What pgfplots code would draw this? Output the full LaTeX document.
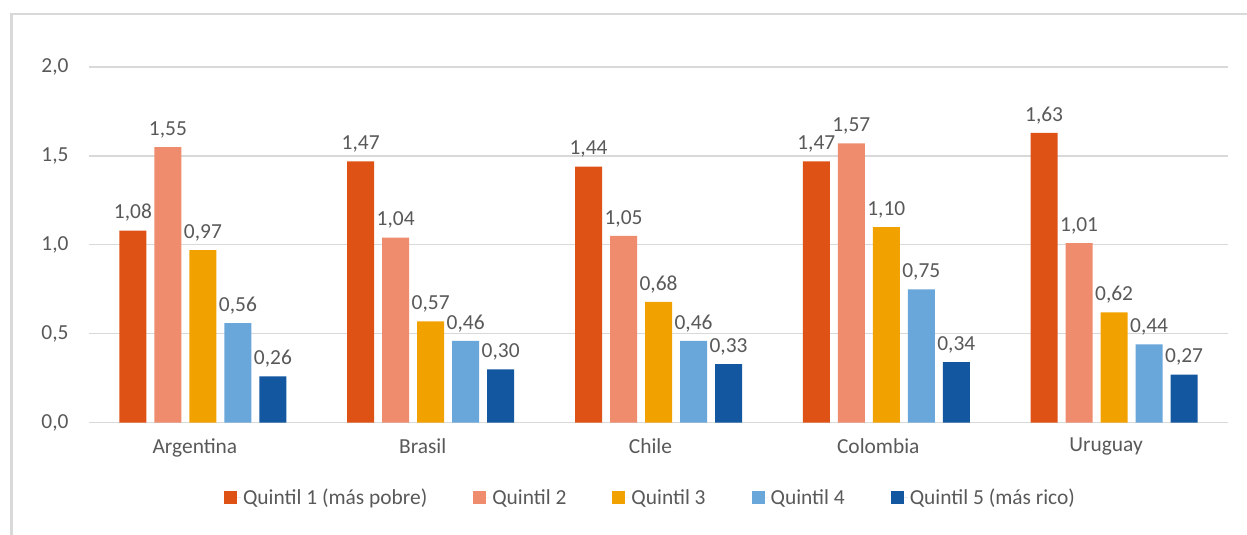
\documentclass[border=0pt]{standalone}
\usepackage{pgfplots}
\pgfplotsset{compat=1.18}
\usepackage{fontspec}
\setmainfont{Carlito}
\definecolor{qa}{HTML}{DE5215}
\definecolor{qb}{HTML}{EF8C6E}
\definecolor{qc}{HTML}{F2A200}
\definecolor{qd}{HTML}{69A7DB}
\definecolor{qe}{HTML}{1257A0}
\definecolor{gridc}{HTML}{D9D9D9}
\definecolor{framec}{HTML}{D9D9D9}
\definecolor{labc}{HTML}{595959}
\newcommand{\cfont}{\fontsize{21.5}{25}\selectfont}
\begin{document}
\begin{tikzpicture}
\useasboundingbox (0,0) rectangle (1247bp,535bp);
\fill[white] (0,0) rectangle (1247bp,535bp);
\draw[line width=2.5bp, color=framec] (11.5bp,0) -- (11.5bp,521bp) -- (1247bp,521bp);
\begin{axis}[
  at={(89bp,112.3bp)}, anchor=south west,
  width=1139bp, height=355.7bp, scale only axis,
  xmin=-0.5, xmax=4.5, ymin=0, ymax=2,
  ybar=8bp, bar width=27bp,
  xtick={0,1,2,3,4},
  xticklabels={Argentina,Brasil,Chile,Colombia,Uruguay},
  ytick={0,0.5,1,1.5,2},
  ymajorgrids, grid style={color=gridc, line width=1.3bp},
  axis line style={draw=none}, major tick length=0pt,
  tick label style={font=\cfont, text=labc},
  xticklabel style={yshift=-12bp, xshift=-8bp},
  yticklabel style={xshift=-17bp, /pgf/number format/.cd, fixed, fixed zerofill, precision=1, use comma, assume math mode=true},
  nodes near coords,
  nodes near coords style={font=\cfont, text=labc, yshift=5.5bp, /pgf/number format/.cd, fixed, fixed zerofill, precision=2, use comma, assume math mode=true},
  legend columns=5,
  legend style={at={(0.5,0)}, anchor=center, yshift=-75bp, xshift=-8bp, draw=none, fill=none, font=\cfont, text=labc,
    /tikz/every even column/.append style={column sep=44bp}},
  legend cell align=left,
  legend image code/.code={\fill[#1] (0bp,-6.5bp) rectangle (13bp,6.5bp); \path (0bp,0bp) -- (17bp,0bp);},
]
\addplot[fill=qa, draw=none] coordinates {(0,1.08) (1,1.47) (2,1.44) (3,1.47) (4,1.63)};
\addplot[fill=qb, draw=none] coordinates {(0,1.55) (1,1.04) (2,1.05) (3,1.57) (4,1.01)};
\addplot[fill=qc, draw=none] coordinates {(0,0.97) (1,0.57) (2,0.68) (3,1.10) (4,0.62)};
\addplot[fill=qd, draw=none] coordinates {(0,0.56) (1,0.46) (2,0.46) (3,0.75) (4,0.44)};
\addplot[fill=qe, draw=none] coordinates {(0,0.26) (1,0.30) (2,0.33) (3,0.34) (4,0.27)};
\legend{Quintil 1 (más pobre),Quintil 2,Quintil 3,Quintil 4,Quintil 5 (más rico)}
\end{axis}
\end{tikzpicture}
\end{document}
